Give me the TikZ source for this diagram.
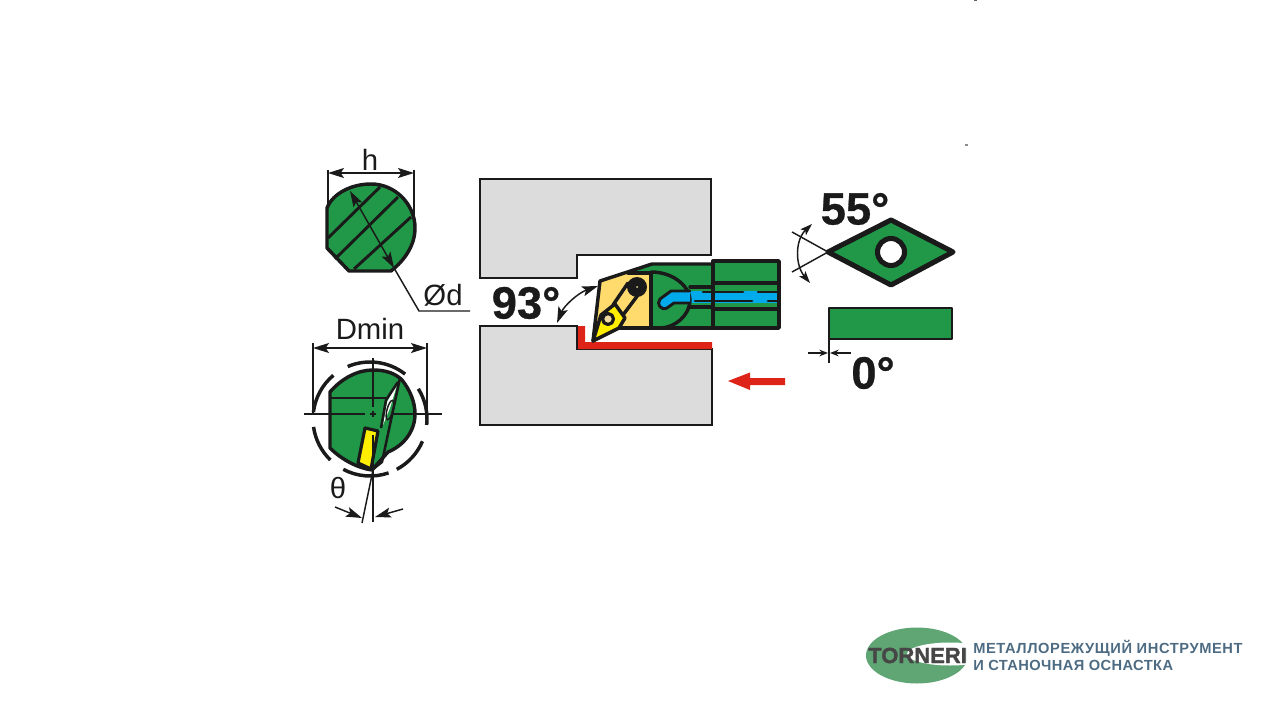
\documentclass[tikz,border=0pt]{standalone}
\usepackage{fontspec}
\setmainfont{Liberation Sans}
\usetikzlibrary{arrows.meta,positioning}
\definecolor{bodygreen}{RGB}{32,152,72}
\definecolor{workgray}{RGB}{220,220,220}
\definecolor{inkblack}{RGB}{26,26,26}
\definecolor{holderyellow}{RGB}{255,219,110}
\definecolor{insertyellow}{RGB}{255,238,0}
\definecolor{holetan}{RGB}{240,220,160}
\definecolor{coolblue}{RGB}{0,170,235}
\definecolor{cutred}{RGB}{222,36,24}
\definecolor{logogreen}{RGB}{96,166,116}
\definecolor{logoink}{RGB}{70,70,70}
\definecolor{logoblue}{RGB}{77,107,130}
\tikzset{
  thinline/.style={draw=inkblack,line width=1.1pt},
  midline/.style={draw=inkblack,line width=1.9pt,line join=round},
  heavyline/.style={draw=inkblack,line width=2.6pt,line join=round,line cap=round},
  workpiece/.style={fill=workgray,draw=inkblack,line width=1.2pt},
  dimarrow/.style={thinline,{Stealth[length=12pt,width=7.5pt,inset=2.5pt]}-{Stealth[length=12pt,width=7.5pt,inset=2.5pt]}},
  onearrow/.style={thinline,-{Stealth[length=12pt,width=7.5pt,inset=2.5pt]}},
  smalltip/.style={thinline,-{Stealth[length=6.5pt,width=5pt]}},
  dimlabel/.style={text=inkblack,font=\fontsize{22}{24}\selectfont,inner sep=0pt},
  anglelabel/.style={text=inkblack,font=\fontsize{34}{38}\selectfont\bfseries\addfontfeature{FakeBold=0.6},inner sep=0pt},
  logotext/.style={text=logoblue,inner sep=0pt,anchor=west}
}
\begin{document}
\begin{tikzpicture}[x=0.75pt,y=0.75pt,yscale=-1]
  \useasboundingbox (0,0) rectangle (1280,720);
  % Specks
  \fill[inkblack!70] (974,0) rectangle (977,1.5);
  \fill[inkblack!50] (964.5,144.5) rectangle (967.5,146);
  % Workpiece
  \draw[workpiece] (480,179) -- (711,179) -- (711,255) -- (577,255) -- (577,278) -- (480,278) -- cycle;
  \draw[workpiece] (480,326) -- (577,326) -- (577,349) -- (712,349) -- (712,425) -- (480,425) -- cycle;
  \fill[cutred] (577,326) -- (585,326) -- (585,342) -- (712,342) -- (712,349) -- (577,349) -- cycle;
  \draw[inkblack,line width=1.2pt] (577,326) -- (577,349);
  % Holder
  \fill[bodygreen] (628,273) -- (652,264) -- (713,264) -- (713,261) -- (779,261) -- (779,328) -- (651,328) -- (651,273) -- cycle;
  \fill[coolblue] (690,290.5) rectangle (778,302.5);
  \fill[holderyellow] (600,281) -- (628,273) -- (651,273) -- (651,328) -- (620,328) -- (593,341) -- cycle;
  \draw[heavyline] (593,341) -- (600,281) -- (652,264) -- (713,264);
  \draw[heavyline] (713,264) -- (713,261) -- (779,261) -- (779,328) -- (620,328);
  \draw[heavyline] (628,273) -- (651,273) -- (651,328);
  \draw[heavyline] (713,261) -- (713,328);
  \draw[heavyline] (651,272) .. controls (675,272) and (690,288) .. (690,300) .. controls (690,315) and (675,328) .. (660,328);
  \draw[heavyline] (690,287) -- (713,287);
  \draw[heavyline] (713,283) -- (779,283);
  \draw[heavyline] (690,307) -- (713,307);
  \draw[heavyline] (713,309) -- (779,309);
  % Coolant
  \draw[heavyline,line width=2.2pt,fill=coolblue] (690,291) -- (671,291) -- (660,299) .. controls (656,304) and (661,311) .. (667,308) -- (674,303) -- (690,303);
  \draw[heavyline,line width=2pt] (703,292) -- (743,292);
  \draw[heavyline,line width=2pt] (758,292) -- (778,292);
  \draw[heavyline,line width=2pt] (695,301) -- (752,301);
  \draw[heavyline,line width=2pt] (768,301) -- (778,301);
  % Lever and pin
  \draw[heavyline] (628,283) -- (613,305);
  \draw[heavyline] (638,295) -- (623,315);
  \fill[inkblack] (637,287) circle (10);
  \fill[holetan] (637,287) circle (1);
  % Insert
  \draw[heavyline,fill=insertyellow] (593,341) -- (601,315) -- (615,304) -- (625,318) -- (619,328) -- cycle;
  \draw[midline,line width=2.4pt,fill=holetan] (608,319) circle (5.5);
  % Angle 93
  \draw[dimarrow] (557,323) .. controls (564,306) and (578,293) .. (598,286);
  \node[anglelabel] (anglemain) at (526,303) {93°};
  % Section h
  \draw[heavyline,fill=bodygreen] (327,208) .. controls (333,193) and (352,184) .. (371,184) .. controls (395,184) and (415,204) .. (415,228) .. controls (415,245) and (405,260) .. (391,271) -- (349,271) -- (327,248) -- cycle;
  \draw[midline,line width=2.2pt] (380,187) -- (328,238);
  \draw[midline,line width=2.2pt] (398,197) -- (335,259);
  \draw[midline,line width=2.2pt] (411,217) -- (354,269);
  \draw[thinline] (328,170) -- (328,208);
  \draw[thinline] (414,170) -- (414,225);
  \draw[dimarrow] (328,173) -- (414,173);
  \node[dimlabel] (hlabel) at (370,160) {h};
  \draw[dimarrow] (350,191) -- (394,268);
  \draw[thinline] (394,268) -- (419,311) -- (470,311);
  \node[dimlabel] (dlabel) at (443,295) {Ød};
  % Section Dmin
  \draw[heavyline,fill=bodygreen] (330,392) .. controls (342,378) and (358,370) .. (373,370) .. controls (385,370) and (395,373) .. (402,380) .. controls (410,390) and (415,402) .. (415,414) .. controls (415,430) and (405,445) .. (388,452) -- (372,470) .. controls (358,468) and (342,460) .. (330,448) -- cycle;
  \fill[white] (398,382) -- (387,402) -- (383,425) -- (390,408) -- cycle;
  \draw[midline] (330,398) -- (386,398);
  \draw[midline] (398,382) -- (386,400) -- (381,428);
  \draw[midline] (400,378) -- (382,462) -- (372,470);
  \draw[thinline,rotate around={15:(390,410)}] (390,410) ellipse (3 and 10);
  \draw[midline,line width=2.4pt,fill=insertyellow] (365,428) -- (378,431) -- (371,469) -- (358,463) -- cycle;
  \draw[thinline] (304,414) -- (365,414);
  \draw[thinline] (370,414) -- (376,414);
  \draw[thinline] (392,414) -- (442,414);
  \draw[thinline] (373,358) -- (373,407);
  \draw[thinline] (373,411) -- (373,417);
  \draw[thinline] (373,435) -- (373,522);
  \draw[thinline] (373,470) -- (362,523);
  \foreach \a/\b in {247/308,187/230,134/172,71/118,-32/6,23/62}
    \draw[heavyline,line cap=butt] (370,419) ++(\a:57) arc[start angle=\a,end angle=\b,radius=57];
  \draw[thinline] (313,343) -- (313,413);
  \draw[thinline] (427,343) -- (427,413);
  \draw[dimarrow] (313,348) -- (427,348);
  \node[dimlabel] (dminlabel) at (370,329) {Dmin};
  \node[dimlabel] (thetalabel) at (338,488) {θ};
  \draw[onearrow] (335,507) -- (362,518);
  \draw[onearrow] (403,509) -- (375,517);
  % Insert 55
  \draw[heavyline,line width=3.8pt,fill=bodygreen] (828,252) -- (891,220) -- (953,252) -- (891,285) -- cycle;
  \draw[heavyline,line width=3.8pt,fill=white] (891,252) circle (13.5);
  \draw[thinline] (792,232) -- (828,252) -- (792,272);
  \draw[thinline,{Stealth[length=9pt,width=6pt,inset=2pt]}-{Stealth[length=9pt,width=6pt,inset=2pt]}] (812,224) .. controls (795,240) and (795,265) .. (810,283);
  \node[anglelabel] (anglefiftyfive) at (855,209) {55°};
  % Insert 0
  \draw[midline,fill=bodygreen] (829,308) rectangle (952,339);
  \draw[midline] (829,339) -- (829,363);
  \draw[smalltip] (808,353) -- (828,353);
  \draw[smalltip] (851,353) -- (830,353);
  \node[anglelabel] (anglezero) at (873,373) {0°};
  % Feed
  \fill[cutred] (728,381) -- (750,372.5) -- (750,378) -- (785,378) -- (785,385) -- (750,385) -- (750,390) -- cycle;
  % Logo
  \begin{scope}
    \clip (860,620) rectangle (966,690);
    \fill[logogreen] (917,655.5) ellipse (51 and 28);
    \fill[white] (950,654) ellipse (43 and 11.5);
    \node[inner sep=0pt,anchor=west,text=logoink,font=\fontsize{16.5}{18}\selectfont\bfseries\addfontfeature{FakeBold=1.5}] (logoname) at (868,655.5) {TORNERI};
  \end{scope}
  \node[logotext,font=\fontsize{11}{13}\selectfont\bfseries\addfontfeature{LetterSpace=4}] (logofirst) at (973,648) {МЕТАЛЛОРЕЖУЩИЙ ИНСТРУМЕНТ};
  \node[logotext,font=\fontsize{11}{13}\selectfont\bfseries\addfontfeature{LetterSpace=2.7}] (logosecond) at (973,665.5) {И СТАНОЧНАЯ ОСНАСТКА};
\end{tikzpicture}
\end{document}
